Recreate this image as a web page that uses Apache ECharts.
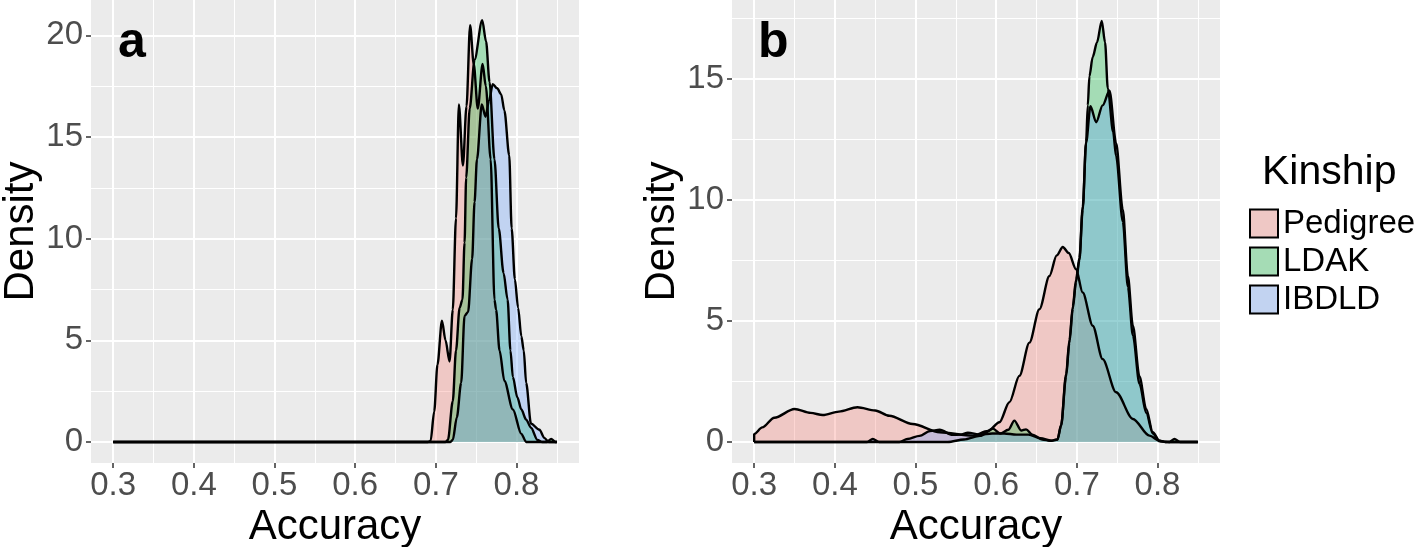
<!DOCTYPE html>
<html>
<head>
<meta charset="utf-8">
<script src="https://cdn.jsdelivr.net/npm/echarts@6/dist/echarts.min.js"></script>
<style>
html,body{margin:0;padding:0;background:#fff;}
#c{width:1418px;height:547px;}
</style>
</head>
<body>
<div id="c"></div>
<script>
// ---- tick labels / breaks ----
const xTicks = [0.3, 0.4, 0.5, 0.6, 0.7, 0.8];
const xMinor = [0.35, 0.45, 0.55, 0.65, 0.75, 0.85];
const yTicksA = [0, 5, 10, 15, 20];
const yMinorA = [2.5, 7.5, 12.5, 17.5];
const yTicksB = [0, 5, 10, 15];
const yMinorB = [2.5, 7.5, 12.5, 17.5];
const kinship = ['Pedigree', 'LDAK', 'IBDLD'];

// ---- panel a densities [accuracy, density] ----
const pedigreeA = [[0.30,0],[0.69,0],[0.6935,0.05],[0.698,1.5],[0.702,3.8],[0.7076,5.97],[0.712,5.0],[0.717,3.96],
  [0.721,6.5],[0.725,11],[0.7286,16.6],[0.7336,13.6],[0.738,16.5],[0.7425,20.5],[0.747,18.6],[0.752,16.4],
  [0.758,18.6],[0.762,17.5],[0.768,13.9],[0.7727,7.0],[0.7747,6.5],[0.779,4.5],[0.785,3.0],[0.7955,1.6],
  [0.806,0.4],[0.812,0],[0.85,0]];
const ldakA = [[0.30,0],[0.712,0],[0.715,0.1],[0.721,2.0],[0.725,4.5],[0.7295,6.6],[0.733,7.0],[0.7356,9.8],
  [0.7376,13],[0.742,16.4],[0.748,18.8],[0.7575,20.75],[0.7623,19.7],[0.7666,17.7],[0.7727,13.9],[0.778,10.5],
  [0.784,8.3],[0.789,7.0],[0.7925,4.5],[0.7955,3.2],[0.801,2.2],[0.806,1.6],[0.812,1.1],[0.818,0.7],
  [0.826,0.1],[0.832,0],[0.838,0],[0.843,0.15],[0.848,0],[0.85,0]];
const ibdldA = [[0.30,0],[0.718,0],[0.721,0.1],[0.726,1.2],[0.7314,2.9],[0.7356,6.2],[0.740,6.4],[0.745,9.0],
  [0.748,11.8],[0.751,13.9],[0.757,16.6],[0.7616,16.0],[0.766,16.8],[0.7706,17.6],[0.776,17.4],[0.781,17.1],
  [0.785,16.3],[0.791,14.1],[0.794,10.5],[0.798,8.0],[0.802,6.6],[0.806,5.2],[0.809,4.5],[0.812,2.9],
  [0.818,0.9],[0.8285,0.6],[0.8345,0.2],[0.84,0],[0.85,0]];

// ---- panel b densities [accuracy, density] ----
const pedigreeB = [[0.30,0],[0.30,0.33],[0.31,0.6],[0.325,1.0],[0.35,1.36],[0.37,1.2],[0.385,1.11],[0.405,1.25],
  [0.428,1.43],[0.45,1.3],[0.4675,1.08],[0.4964,0.74],[0.53,0.4],[0.571,0.26],[0.59,0.45],[0.604,0.81],
  [0.6164,1.64],[0.6288,2.73],[0.6412,4.1],[0.6536,5.48],[0.666,6.85],[0.675,7.7],[0.6826,8.05],[0.69,7.8],
  [0.699,7.13],[0.7073,6.17],[0.7197,4.8],[0.732,3.42],[0.7487,2.05],[0.7695,0.95],[0.79,0.26],[0.8025,0.05],
  [0.81,0],[0.85,0]];
const ldakB = [[0.30,0],[0.54,0],[0.56,0.1],[0.58,0.25],[0.596,0.55],[0.605,0.35],[0.615,0.5],[0.6226,0.88],
  [0.631,0.47],[0.637,0.52],[0.645,0.3],[0.657,0.1],[0.668,0.05],[0.676,0.1],[0.6805,0.7],[0.6867,2.8],
  [0.6908,4.2],[0.695,5.6],[0.699,6.7],[0.7032,7.6],[0.7073,9.7],[0.7115,12.4],[0.7136,13.9],[0.7156,15.1],
  [0.7197,15.9],[0.725,16.5],[0.7309,17.39],[0.735,16.5],[0.7384,14.6],[0.745,12.8],[0.7487,11.8],[0.757,9.1],
  [0.7633,6.4],[0.7695,4.4],[0.7777,2.4],[0.786,1.2],[0.7942,0.35],[0.8025,0.03],[0.815,0],[0.821,0.12],
  [0.828,0],[0.85,0]];
const ibdldB = [[0.30,0],[0.44,0],[0.447,0.12],[0.455,0],[0.48,0],[0.49,0.12],[0.505,0.25],[0.518,0.45],
  [0.53,0.5],[0.546,0.29],[0.556,0.3],[0.565,0.38],[0.58,0.3],[0.595,0.35],[0.61,0.35],[0.625,0.3],
  [0.64,0.3],[0.655,0.15],[0.668,0.05],[0.676,0.1],[0.6805,0.67],[0.6867,2.7],[0.6908,4.1],[0.695,5.5],
  [0.699,6.6],[0.7032,7.5],[0.7073,9.6],[0.7115,12.35],[0.7169,13.86],[0.724,13.2],[0.732,13.9],[0.7405,14.5],
  [0.7487,12.35],[0.757,9.6],[0.7633,6.85],[0.7695,4.8],[0.7777,2.7],[0.786,1.36],[0.7942,0.4],[0.8025,0.05],
  [0.81,0],[0.85,0]];

const fills = ['rgba(248,118,109,0.3)', 'rgba(0,186,56,0.3)', 'rgba(97,156,255,0.3)'];
const keyFills = ['#EFC8C5', '#A5DCB5', '#C2D3F1'];
const FONT = '"Liberation Sans", Arial, Helvetica, sans-serif';

function gridSeries(idx, yMajor, yMinor) {
  const d = [];
  xTicks.forEach(v => d.push({xAxis: v, lineStyle: {width: 2}}));
  xMinor.forEach(v => d.push({xAxis: v, lineStyle: {width: 1}}));
  yMajor.forEach(v => d.push({yAxis: v, lineStyle: {width: 2}}));
  yMinor.forEach(v => d.push({yAxis: v, lineStyle: {width: 1}}));
  return {
    type: 'line', xAxisIndex: idx, yAxisIndex: idx, data: [], z: 1, silent: true,
    markLine: {silent: true, z: 1, symbol: ['none', 'none'], animation: false,
      label: {show: false}, lineStyle: {color: '#ffffff', type: 'solid', width: 2}, data: d}
  };
}
function densSeries(name, data, idx, k) {
  return {
    name: name, type: 'line', xAxisIndex: idx, yAxisIndex: idx, data: data,
    showSymbol: false, symbol: 'none', smooth: 0.3, smoothMonotone: 'x', z: 2,
    itemStyle: {color: keyFills[k]},
    lineStyle: {color: '#000', width: 2.4},
    areaStyle: {color: fills[k], opacity: 1},
    animation: false
  };
}
function xAx(idx) {
  return {
    type: 'value', gridIndex: idx, min: 0.2725, max: 0.8775,
    name: 'Accuracy', nameLocation: 'middle', nameGap: 34,
    nameTextStyle: {fontSize: 42, color: '#000', fontFamily: FONT},
    axisLine: {show: false, onZero: false},
    splitLine: {show: false},
    axisTick: {show: true, length: 5, customValues: xTicks, lineStyle: {color: '#333', width: 1.5}},
    axisLabel: {customValues: xTicks, fontSize: 33, color: '#4D4D4D', fontFamily: FONT, margin: 6,
      formatter: v => v.toFixed(1)}
  };
}
function yAx(idx, mn, mx, ticks) {
  return {
    type: 'value', gridIndex: idx, min: mn, max: mx,
    name: 'Density', nameLocation: 'middle', nameGap: 49, nameRotate: 90,
    nameTextStyle: {fontSize: 42, color: '#000', fontFamily: FONT},
    axisLine: {show: false, onZero: false},
    splitLine: {show: false},
    axisTick: {show: true, length: 5, customValues: ticks, lineStyle: {color: '#333', width: 1.5}},
    axisLabel: {customValues: ticks, fontSize: 33, color: '#4D4D4D', fontFamily: FONT, margin: 8}
  };
}

const chart = echarts.init(document.getElementById('c'), null, {renderer: 'canvas'});
chart.setOption({
  backgroundColor: '#ffffff',
  animation: false,
  textStyle: {fontFamily: FONT},
  title: [
    {text: 'a', left: 118, top: 18, padding: 0, textStyle: {fontSize: 50, fontWeight: 'bold', color: '#000', fontFamily: FONT}},
    {text: 'b', left: 758, top: 18, padding: 0, textStyle: {fontSize: 50, fontWeight: 'bold', color: '#000', fontFamily: FONT}},
    {text: 'Kinship', left: 1262, top: 152, padding: 0, textStyle: {fontSize: 41, fontWeight: 'normal', color: '#000', fontFamily: FONT}}
  ],
  legend: {
    orient: 'vertical', left: 1249, top: 207, padding: 0, itemWidth: 28, itemHeight: 28, itemGap: 5,
    selectedMode: false, icon: 'rect',
    textStyle: {fontSize: 33, lineHeight: 29, color: '#000', fontFamily: FONT},
    lineStyle: {opacity: 0, width: 0},
    data: kinship.map((n, k) => ({name: n, icon: 'rect',
      itemStyle: {color: keyFills[k], borderColor: '#000', borderWidth: 2}}))
  },
  grid: [
    {left: 91, top: 0, width: 488, height: 463, show: true, backgroundColor: '#EBEBEB', borderWidth: 0, outerBoundsMode: 'none', containLabel: false},
    {left: 732, top: 0, width: 488, height: 463, show: true, backgroundColor: '#EBEBEB', borderWidth: 0, outerBoundsMode: 'none', containLabel: false}
  ],
  xAxis: [xAx(0), xAx(1)],
  yAxis: [yAx(0, -1.035, 21.74, yTicksA), yAx(1, -0.87, 18.25, yTicksB)],
  series: [
    gridSeries(0, yTicksA, yMinorA),
    gridSeries(1, yTicksB, yMinorB),
    densSeries('Pedigree', pedigreeA, 0, 0),
    densSeries('LDAK', ldakA, 0, 1),
    densSeries('IBDLD', ibdldA, 0, 2),
    densSeries('Pedigree', pedigreeB, 1, 0),
    densSeries('LDAK', ldakB, 1, 1),
    densSeries('IBDLD', ibdldB, 1, 2)
  ]
});
</script>
</body>
</html>
